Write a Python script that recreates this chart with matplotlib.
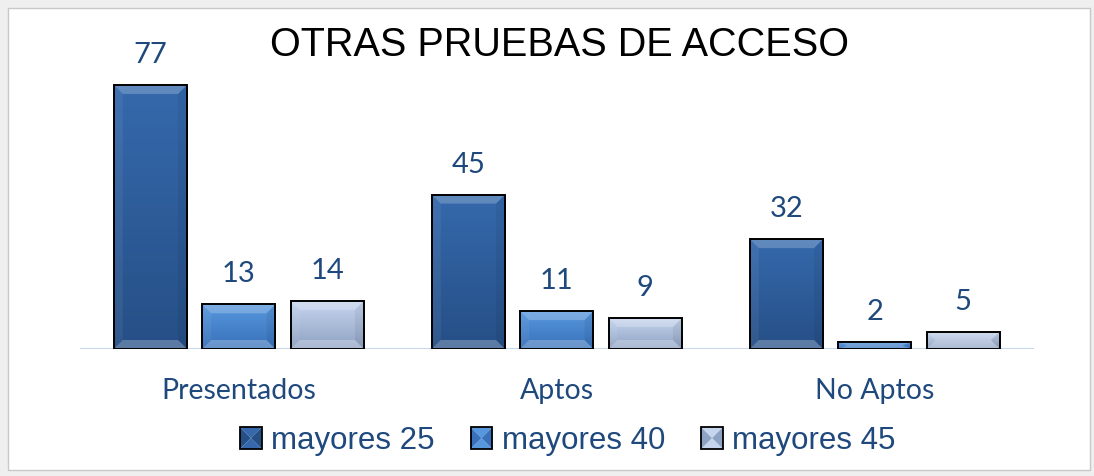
import matplotlib
matplotlib.use("Agg")
import matplotlib.pyplot as plt
import numpy as np
from matplotlib.patches import Rectangle, Polygon
from matplotlib.colors import LinearSegmentedColormap
from matplotlib.legend_handler import HandlerBase

categories = ["Presentados", "Aptos", "No Aptos"]
series     = ["mayores 25", "mayores 40", "mayores 45"]
mayores_25 = [77, 45, 32]
mayores_40 = [13, 11, 2]
mayores_45 = [14, 9, 5]

# (top, bottom) gradient colours per series
COLORS  = [("#3569ac", "#264f86"), ("#5797dd", "#3871ba"), ("#c6d5ee", "#8ea2c3")]
TXT     = "#1f497d"
NARROW  = ["Liberation Sans Narrow", "Liberation Sans", "DejaVu Sans"]
LABELF  = ["Lato", "DejaVu Sans"]


def bevel(ax, x0, y0, w, h, bx, by):
    bx = min(bx, w / 2)
    by = min(by, h / 2)
    x1, y1 = x0 + w, y0 + h
    faces = [
        ([(x0, y1), (x1, y1), (x1 - bx, y1 - by), (x0 + bx, y1 - by)], "white", 0.22),
        ([(x0, y0), (x1, y0), (x1 - bx, y0 + by), (x0 + bx, y0 + by)], "white", 0.25),
        ([(x0, y0), (x0, y1), (x0 + bx, y1 - by), (x0 + bx, y0 + by)], "white", 0.06),
        ([(x1, y0), (x1, y1), (x1 - bx, y1 - by), (x1 - bx, y0 + by)], "black", 0.06),
    ]
    for pts, c, a in faces:
        ax.add_patch(Polygon(pts, closed=True, facecolor=c, alpha=a,
                             edgecolor="none", zorder=3))


class BevelHandler(HandlerBase):
    def __init__(self, top, bot):
        super().__init__()
        self.top, self.bot = top, bot

    def create_artists(self, legend, orig, xd, yd, width, height, fontsize, trans):
        s = height * 1.0
        x0, y0 = xd + (width - s) / 2, yd + (height - s) / 2
        b = s * 0.5
        cx, cy = x0 + b, y0 + b
        arts = []
        for pts, c in [([(x0, y0 + s), (x0 + s, y0 + s), (cx, cy)], self.top),
                       ([(x0, y0), (x0 + s, y0), (cx, cy)], self.top),
                       ([(x0, y0), (x0, y0 + s), (cx, cy)], self.bot),
                       ([(x0 + s, y0), (x0 + s, y0 + s), (cx, cy)], self.bot)]:
            arts.append(Polygon(pts, closed=True, facecolor=c,
                                edgecolor="none", transform=trans))
        arts.append(Rectangle((x0, y0), s, s, facecolor="none", edgecolor="black",
                              linewidth=1.3, transform=trans))
        return arts


fig = plt.figure(figsize=(10.94, 4.76), dpi=100)
fig.patch.set_facecolor("#efefef")
fig.patches.append(Rectangle((8 / 1094, 6 / 476), 1082 / 1094, 462 / 476,
                             transform=fig.transFigure, facecolor="white",
                             edgecolor="#c8c8c8", linewidth=1.0, zorder=-5))

ax = fig.add_axes([0.073, 0.267, 0.872, 0.612])
ax.set_facecolor("none")

x = np.arange(len(categories))
step, width = 0.278, 0.23
bx, by = 0.028, 2.6
values = [mayores_25, mayores_40, mayores_45]
grad = np.linspace(1, 0, 64).reshape(-1, 1)
handles, hmap = [], {}
for i, (vals, (top, bot), name) in enumerate(zip(values, COLORS, series)):
    xs = x + (i - 1) * step
    cmap = LinearSegmentedColormap.from_list(name, [bot, top])
    bars = ax.bar(xs, vals, width, color=top, edgecolor="none",
                  zorder=2, label=name)
    handles.append(bars[0])
    hmap[bars[0]] = BevelHandler(top, bot)
    for b, v in zip(bars, vals):
        x0, w = b.get_x(), b.get_width()
        im = ax.imshow(grad, extent=(x0, x0 + w, 0, v), cmap=cmap, vmin=0, vmax=1,
                       aspect="auto", zorder=2.5, interpolation="bilinear")
        im.set_clip_path(b)
        bevel(ax, x0, 0, w, v, bx, by)
        ax.add_patch(Rectangle((x0, 0), w, v, facecolor="none",
                               edgecolor="black", linewidth=1.4, zorder=4))
        ax.text(x0 + w / 2, v + 5, str(v), ha="center",
                va="bottom", fontsize=21, color=TXT, family=LABELF)

ax.set_xlim(-0.5, 2.5)
ax.set_ylim(0, 85)
ax.axhline(0, color="#c6d7ee", linewidth=1.5, zorder=1)
for s in ax.spines.values():
    s.set_visible(False)
ax.set_yticks([])
ax.set_xticks(x)
ax.set_xticklabels(categories, fontsize=20.5, color=TXT, family=LABELF)
ax.tick_params(axis="x", length=0, pad=21)

fig.text(559 / 1094, 1 - 45 / 476, "OTRAS PRUEBAS DE ACCESO", ha="center",
         va="center", fontsize=28.5, color="black", family=NARROW)

fig.legend(handles, series, loc="center", bbox_to_anchor=(567 / 1094, 1 - 441 / 476),
           ncol=3, frameon=False, handler_map=hmap,
           prop={"family": NARROW, "size": 22.5}, labelcolor=TXT,
           handlelength=0.8, handletextpad=0.25, columnspacing=1.1)

fig.savefig("out.png", dpi=100, facecolor=fig.get_facecolor())
